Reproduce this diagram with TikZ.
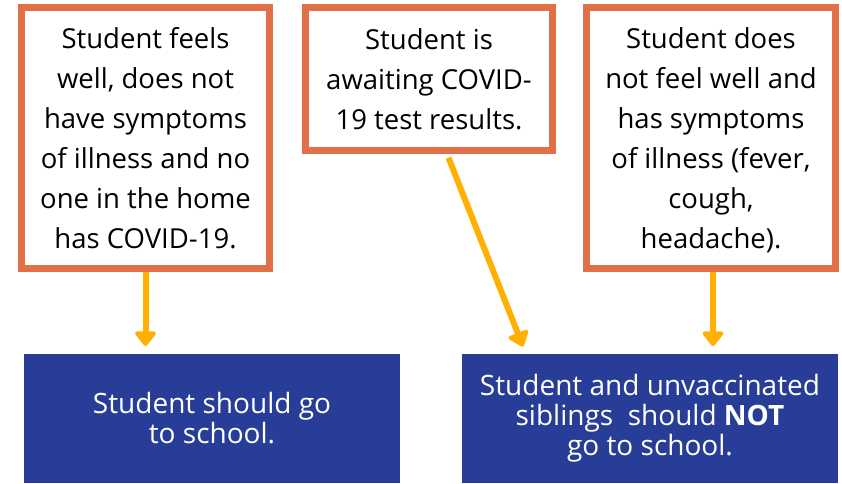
\documentclass[tikz,border=0pt]{standalone}
\usepackage{fontspec}
\setmainfont{Open Sans}
\usetikzlibrary{arrows.meta}
\definecolor{rim}{RGB}{225,112,72}
\definecolor{navy}{RGB}{39,61,151}
\definecolor{amber}{RGB}{255,176,0}
\begin{document}
\begin{tikzpicture}[x=1pt,y=-1pt]
	\tikzset{every node/.style={align=center,inner sep=0pt},
		sitbox/.style={draw=rim,line width=7pt,fill=white,font=\fontsize{27.5}{40}\selectfont},
		doit/.style={fill=navy,text=white,outer sep=0pt,minimum width=376pt,minimum height=129pt,font=\fontsize{28}{30}\selectfont},
		goarrow/.style={draw=amber,line width=6pt,-{Triangle[width=24pt,length=16pt,round]}}}
	\useasboundingbox (0,0) rectangle (842,483);
	\node[sitbox,minimum width=248pt,minimum height=261pt] (well) at (145.5,138)
		{Student feels\\well, does not\\have symptoms\\of illness and no\\one in the home\\has COVID-19.};
	\node[sitbox,minimum width=247pt,minimum height=143pt] (wait) at (429,79)
		{Student is\\awaiting COVID-\\19 test results.};
	\node[sitbox,minimum width=249pt,minimum height=261pt] (ill) at (711,138)
		{Student does\\not feel well and\\has symptoms\\of illness (fever,\\cough,\\\smash{headache).}};
	\node[doit] (go) at (212,418.5) {Student should go\\to school.};
	\node[doit] (stay) at (650,418.5) {Student and unvaccinated\\siblings\ \ should \textbf{NOT}\\go to school.};
	\draw[goarrow,shorten >=8pt] (well.south) -- (well.south |- go.north);
	\draw[goarrow,shorten <=4pt,shorten >=8pt] ([xshift=18pt]wait.south) -- ([xshift=-124pt]stay.north);
	\draw[goarrow,shorten >=8pt] ([xshift=2pt]ill.south) -- ([xshift=2pt]ill.south |- stay.north);
\end{tikzpicture}
\end{document}
